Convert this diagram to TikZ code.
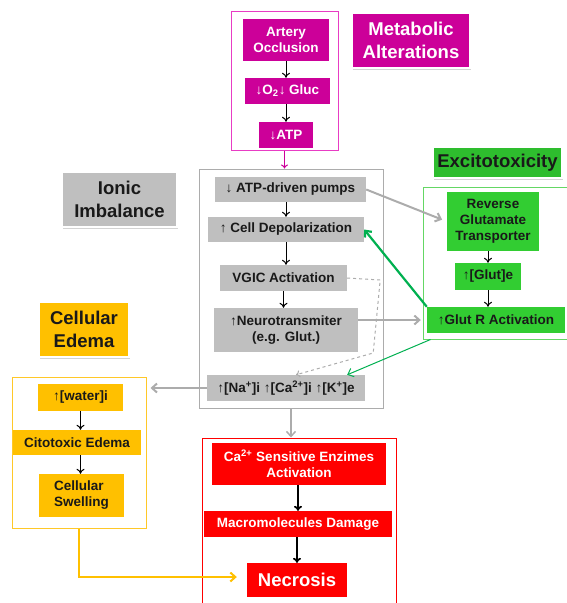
\documentclass[tikz,border=0pt]{standalone}
\usepackage{fontspec}
\setmainfont{Liberation Sans}
\usetikzlibrary{arrows.meta, shadows}
\definecolor{magfill}{RGB}{204,0,153}
\definecolor{magline}{RGB}{232,60,196}
\definecolor{grayfill}{RGB}{191,191,191}
\definecolor{grayline}{RGB}{172,172,172}
\definecolor{greenfill}{RGB}{50,205,50}
\definecolor{greenline}{RGB}{100,215,100}
\definecolor{greenarrow}{RGB}{0,176,80}
\definecolor{yelfill}{RGB}{255,192,0}
\definecolor{yelline}{RGB}{255,200,40}
\definecolor{redfill}{RGB}{255,0,0}

\begin{document}
\begin{tikzpicture}[x=1pt, y=-1pt, font=\bfseries\fontsize{13.5}{16}\selectfont,
  box/.style={inner sep=1pt, align=center},
  magbox/.style={box, fill=magfill, text=white},
  graybox/.style={box, fill=grayfill, text=black!90},
  greenbox/.style={box, fill=greenfill, text=black!90},
  yelbox/.style={box, fill=yelfill, text=black!90},
  redbox/.style={box, fill=redfill, text=white},
  grpframe/.style={draw=#1, line width=1pt, inner sep=0pt},
  tagbox/.style={draw=white, line width=1.6pt, align=center, inner sep=1pt,
    font=\bfseries\fontsize{18.5}{22.5}\selectfont,
    drop shadow={opacity=0.35, shadow xshift=1pt, shadow yshift=-1.5pt}},
  blkarr/.style={-{To[length=5pt, width=8pt]}, line width=1pt},
  grayarr/.style={draw=grayline, line width=2pt, -{Straight Barb[length=5pt, width=9pt]}},
  greenarr/.style={draw=greenarrow, -{Straight Barb[length=5pt, width=9pt]}}]
  \useasboundingbox (0,0) rectangle (566,603);
  % ============ metabolic alterations ============
  \node[grpframe=magline, minimum width=107, minimum height=139] (metabframe) at (284.5,80.5) {};
  \node[magbox, minimum width=86, minimum height=42] (artery) at (286,40) {Artery\\Occlusion};
  \node[magbox, minimum width=85, minimum height=26] (lowgluc) at (287.5,91) {↓O\textsubscript{2}↓ Gluc};
  \node[magbox, minimum width=54, minimum height=26] (lowatp) at (286,135) {↓ATP};
  \node[tagbox, fill=magfill, text=white, minimum width=118, minimum height=55] (metablabel) at (411,40.5) {Metabolic\\Alterations};
  \draw[blkarr] (artery.south) -- (artery.south |- lowgluc.north);
  \draw[blkarr] (lowgluc.south -| lowatp.north) -- (lowatp.north);
  % ============ ionic imbalance ============
  \node[grpframe=grayline, minimum width=184, minimum height=239] (ionframe) at (291,288.5) {};
  \node[graybox, minimum width=151, minimum height=25] (pumps) at (290.5,189.5) {↓ ATP-driven pumps};
  \node[graybox, minimum width=156, minimum height=25] (depol) at (286,229.5) {↑ Cell Depolarization};
  \node[graybox, minimum width=127, minimum height=26] (vgic) at (283.5,278) {VGIC Activation};
  \node[graybox, minimum width=144, minimum height=44] (neuro) at (286,330) {↑Neurotransmiter\\(e.g. Glut.)};
  \node[graybox, minimum width=158, minimum height=26] (ions) at (286,388) {↑[Na\textsuperscript{+}]i ↑[Ca\textsuperscript{2+}]i ↑[K\textsuperscript{+}]e};
  \node[tagbox, fill=grayfill, text=black!90, minimum width=115, minimum height=55] (ionlabel) at (119.5,199.5) {Ionic\\Imbalance};
  \draw[magfill, line width=1pt, -{To[length=4pt, width=7pt]}] (metabframe.south) -- (metabframe.south |- ionframe.north);
  \draw[blkarr] (pumps.south -| depol.north) -- (depol.north);
  \draw[blkarr] (depol.south) -- (depol.south |- vgic.north);
  \draw[blkarr] (vgic.south) -- (vgic.south |- neuro.north);
  \draw[grayline, line width=1pt, dashed, -{To[length=4pt, width=7pt]}]
    (vgic.east) -- ++(33,2) -- ++(-7,73) -- ([xshift=10pt]ions.north);
  % ============ excitotoxicity ============
  \node[grpframe=greenline, minimum width=145, minimum height=152] (exciframe) at (495.5,263) {};
  \node[greenbox, minimum width=92, minimum height=59] (reverse) at (493,221.5) {Reverse\\Glutamate\\Transporter};
  \node[greenbox, minimum width=66, minimum height=27] (glute) at (488,276.5) {↑[Glut]e};
  \node[greenbox, minimum width=138, minimum height=26] (glutr) at (496,320) {↑Glut R Activation};
  \node[tagbox, fill=greenfill!92!black, text=black!90, minimum width=129, minimum height=31] (excilabel) at (497.5,162.5) {Excitotoxicity};
  \draw[blkarr] (reverse.south -| glute.north) -- (glute.north);
  \draw[blkarr] (glute.south) -- (glute.south |- glutr.north);
  \draw[grayarr, shorten >=5pt] (pumps.east) -- (reverse.west);
  \draw[grayarr, shorten >=6pt] (neuro.east |- glutr.west) -- (glutr.west);
  \draw[greenarr, line width=2.2pt] (glutr.north west) -- (depol.east);
  \draw[greenarr, line width=1pt] ([xshift=8pt]exciframe.south west) -- ([xshift=-18pt]ions.north east);
  % ============ cellular edema ============
  \node[grpframe=yelline, minimum width=134, minimum height=151] (edemaframe) at (79,452.5) {};
  \node[yelbox, minimum width=85, minimum height=27] (water) at (80.5,397.5) {↑[water]i};
  \node[yelbox, minimum width=128, minimum height=25] (citotox) at (77,442.5) {Citotoxic Edema};
  \node[yelbox, align=left, minimum width=85, minimum height=43] (swelling) at (81.5,495.5) {Cellular\\Swelling};
  \node[tagbox, fill=yelfill, text=black!90, minimum width=90, minimum height=55] (edemalabel) at (84,329.5) {Cellular\\Edema};
  \draw[blkarr] (water.south) -- (water.south |- citotox.north);
  \draw[blkarr] (citotox.south -| water.south) -- (water.south |- swelling.north);
  \draw[grayarr, shorten >=4pt] (ions.west) -- (ions.west -| edemaframe.east);
  % ============ necrosis ============
  \node[grpframe=redfill, minimum width=194, minimum height=172] (necroframe) at (299,524) {};
  \node[redbox, minimum width=174, minimum height=42] (enzymes) at (299,464) {Ca\textsuperscript{2+} Sensitive Enzimes\\Activation};
  \node[redbox, minimum width=188, minimum height=26] (damage) at (298,524) {Macromolecules Damage};
  \node[redbox, minimum width=100, minimum height=34, font=\bfseries\fontsize{18.5}{22.5}\selectfont] (necrosis) at (297,580) {Necrosis};
  \draw[blkarr, line width=1.8pt] (enzymes.south -| damage.north) -- (damage.north);
  \draw[blkarr, line width=1.8pt] (damage.south -| necrosis.north) -- (necrosis.north);
  \draw[grayarr, line width=1.5pt] (ionframe.south) -- (ionframe.south |- necroframe.north);
  \draw[yelfill, line width=2pt, -{Straight Barb[length=5pt, width=9pt]}, shorten >=10pt]
    (edemaframe.south) |- ([yshift=3pt]necrosis.west);
\end{tikzpicture}
\end{document}
